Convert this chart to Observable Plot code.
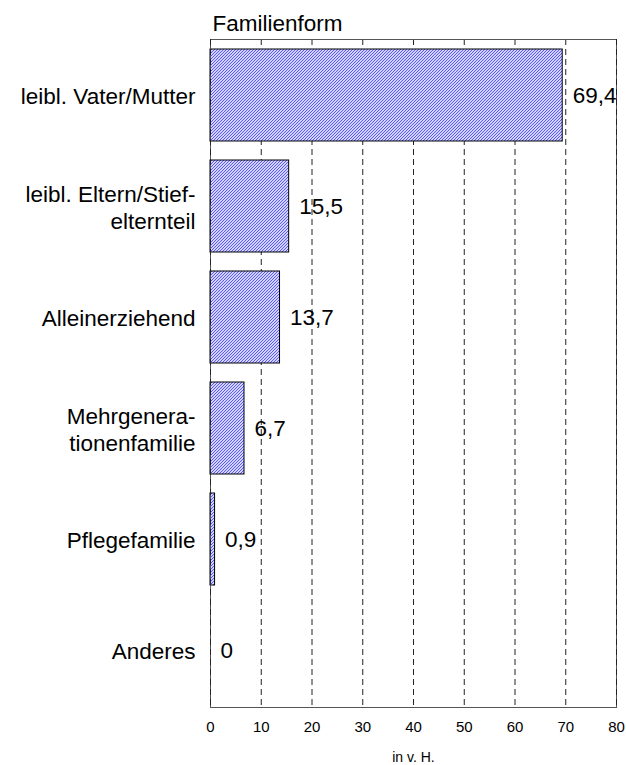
<!DOCTYPE html>
<html><head><meta charset="utf-8">
<script src="https://cdn.jsdelivr.net/npm/d3@7"></script>
<script src="https://cdn.jsdelivr.net/npm/@observablehq/plot@0.6"></script>
<style>body{margin:0;background:#fff;} svg{display:block}</style>
</head><body><div id="chart"></div>
<script>
const categories = ["leibl. Vater/Mutter", "leibl. Eltern/Stief-\nelternteil", "Alleinerziehend", "Mehrgenera-\ntionenfamilie", "Pflegefamilie", "Anderes"];
const values = [69.4, 15.5, 13.7, 6.7, 0.9, 0];
const xTicks = [0, 10, 20, 30, 40, 50, 60, 70, 80];
const gridTicks = [10, 20, 30, 40, 50, 60, 70];
const edgeTicks = [0, 80];
const title = "Familienform";
const xLabel = "in v. H.";

const data = categories.map((c, i) => ({category: c, value: values[i]}));
const fmt = v => String(v).replace(".", ",");

const chart = Plot.plot({
  width: 626, height: 765,
  marginLeft: 210, marginRight: 10, marginTop: 39, marginBottom: 58,
  style: {fontFamily: "'Liberation Sans', Arial, sans-serif", background: "#fff", color: "#000"},
  x: {domain: [0, 80]},
  y: {domain: categories, paddingInner: 0.17, paddingOuter: 0.085, axis: null},
  marks: [
    Plot.ruleX(gridTicks, {stroke: "#222", strokeDasharray: "6,4"}),
    Plot.barX(data, {x: "value", y: "category", fill: "url(#hatch)", stroke: "#000", strokeWidth: 1}),
    Plot.frame({stroke: "#555"}),
    Plot.ruleX(edgeTicks, {stroke: "#222", strokeDasharray: "6,4"}),
    Plot.text(data, {x: "value", y: "category", text: d => fmt(d.value), dx: 10, textAnchor: "start", fontSize: 22.5, fill: "#000"}),
    Plot.text(data, {x: 0, y: "category", text: "category", textAnchor: "end", dx: -15, fontSize: 22.5, lineHeight: 1.2, fill: "#000"}),
    Plot.axisX(xTicks, {tickSize: 0, tickPadding: 14, fontSize: 15, label: null, fill: "#000"}),
    Plot.text([title], {frameAnchor: "top-left", textAnchor: "start", lineAnchor: "bottom", dy: -9, dx: 2, fontSize: 22.5, fill: "#000"}),
    Plot.text([xLabel], {frameAnchor: "bottom", dy: 54, fontSize: 14, fill: "#000", letterSpacing: 1})
  ]
});

const ns = "http://www.w3.org/2000/svg";
const defs = document.createElementNS(ns, "defs");
defs.innerHTML = '<pattern id="hatch" patternUnits="userSpaceOnUse" width="3" height="3">' +
  '<rect width="3" height="3" fill="#d4d4ff"/>' +
  '<path d="M-1,1 l2,-2 M0,3 l3,-3 M2,4 l2,-2" stroke="#4848ff" stroke-width="0.9"/></pattern>';
chart.insertBefore(defs, chart.firstChild);
document.getElementById("chart").appendChild(chart);
</script>
</body></html>
